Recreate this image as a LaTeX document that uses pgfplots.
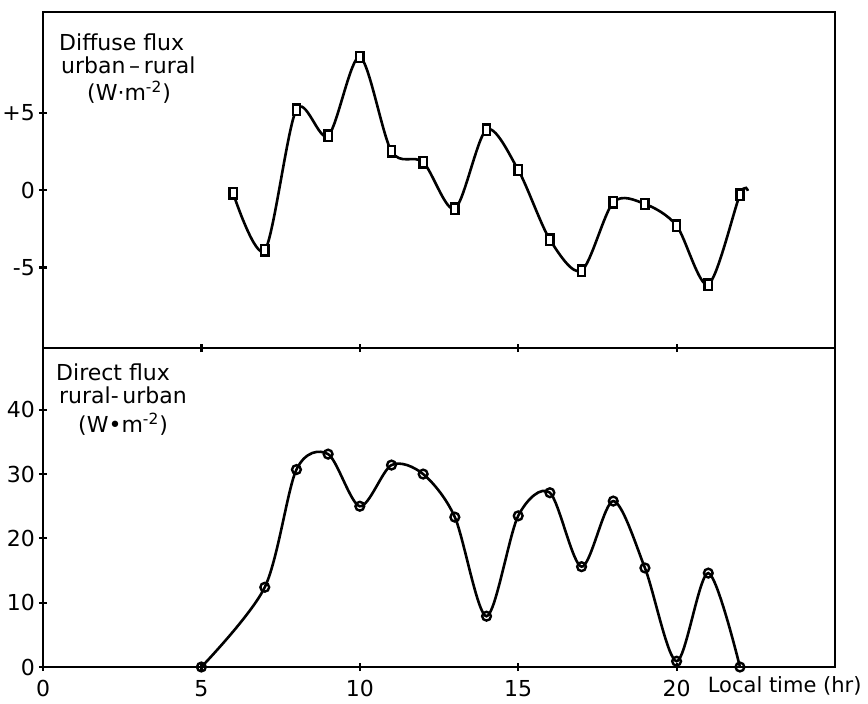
\documentclass[border=0pt]{standalone}
\usepackage{pgfplots}
\pgfplotsset{compat=1.18}
\usepackage{fontspec}
\setmainfont{DejaVu Sans}
\begin{document}
\begin{tikzpicture}
\pgfplotsset{
  every axis/.append style={
    scale only axis, width=396pt, xmin=0, xmax=25,
    clip mode=individual,
    line width=1.2pt, axis line style={line width=1.4pt},
    tick align=center, major tick length=4pt,
    xtick={5,10,15,20}, xtick pos=bottom, ytick pos=left,
    font=\fontsize{11}{13}\selectfont,
    /pgf/number format/assume math mode=true,
    tick style={line width=1.1pt, black},
    yticklabel style={inner sep=1.5pt},
  }
}
\path[use as bounding box] (-21.5pt,-18pt) rectangle (412.5pt,333.5pt);
% Top panel
\begin{axis}[at={(0pt,159.5pt)}, anchor=south west, height=168pt,
  ymin=-10.2, ymax=11.5, ytick={-5,0,5}, yticklabels={-5,0,+5},
  xticklabels={}]
\addplot[black, line width=1.3pt, smooth, tension=0.5] coordinates {
 (6,-0.2) (7,-3.9) (8,5.2) (9,3.5) (10,8.6) (11,2.5) (12,1.8) (13,-1.2)
 (14,3.9) (15,1.3) (16,-3.2) (17,-5.2) (18,-0.8) (19,-0.9) (20,-2.3)
 (21,-6.1) (22,-0.3) (22.25,-0.05)};
\addplot[only marks, mark=square*, mark size=2.6pt,
  mark options={fill=white, draw=black, line width=1.2pt, xscale=0.7}] coordinates {
 (6,-0.2) (7,-3.9) (8,5.2) (9,3.5) (10,8.6) (11,2.5) (12,1.8) (13,-1.2)
 (14,3.9) (15,1.3) (16,-3.2) (17,-5.2) (18,-0.8) (19,-0.9) (20,-2.3)
 (21,-6.1) (22,-0.3)};
\node[anchor=base west, inner sep=0pt] at (rel axis cs:0,1) [xshift=7.5pt, yshift=-19pt] {Diffuse flux};
\node[anchor=base west, inner sep=0pt] at (rel axis cs:0,1) [xshift=8.5pt, yshift=-30.5pt] {urban\,–\,rural};
\node[anchor=base west, inner sep=0pt] at (rel axis cs:0,1) [xshift=21.5pt, yshift=-44pt] {(W·m\textsuperscript{-2})};
\end{axis}
% Bottom panel
\begin{axis}[at={(0pt,0pt)}, anchor=south west, height=159.5pt,
  ymin=0, ymax=49.6, ytick={0,10,20,30,40},
  xtick={0,5,10,15,20},
  every x tick label/.append style={anchor=base, yshift=-12.5pt}]
\addplot[black, line width=1.3pt, smooth, tension=0.5,
  mark=o, mark size=2.2pt, mark options={fill=white, line width=1.2pt}] coordinates {
 (5,0) (7,12.4) (8,30.7) (9,33.1) (10,25.0) (11,31.4) (12,30.0) (13,23.3)
 (14,7.9) (15,23.5) (16,27.1) (17,15.6) (18,25.8) (19,15.4) (20,0.9)
 (21,14.6) (22,0)};
\node[anchor=base west, inner sep=0pt] at (rel axis cs:0,1) [xshift=6pt, yshift=-16pt] {Direct flux};
\node[anchor=base west, inner sep=0pt] at (rel axis cs:0,1) [xshift=7.5pt, yshift=-27.5pt] {rural-\,urban};
\node[anchor=base west, inner sep=0pt] at (rel axis cs:0,1) [xshift=17pt, yshift=-42pt] {(W•m\textsuperscript{-2})};
\node[anchor=base west, inner sep=0pt, font=\fontsize{10.5}{12}\selectfont] at (axis cs:20.95,0) [yshift=-12.5pt] {Local time (hr)};
\end{axis}
\end{tikzpicture}
\end{document}
